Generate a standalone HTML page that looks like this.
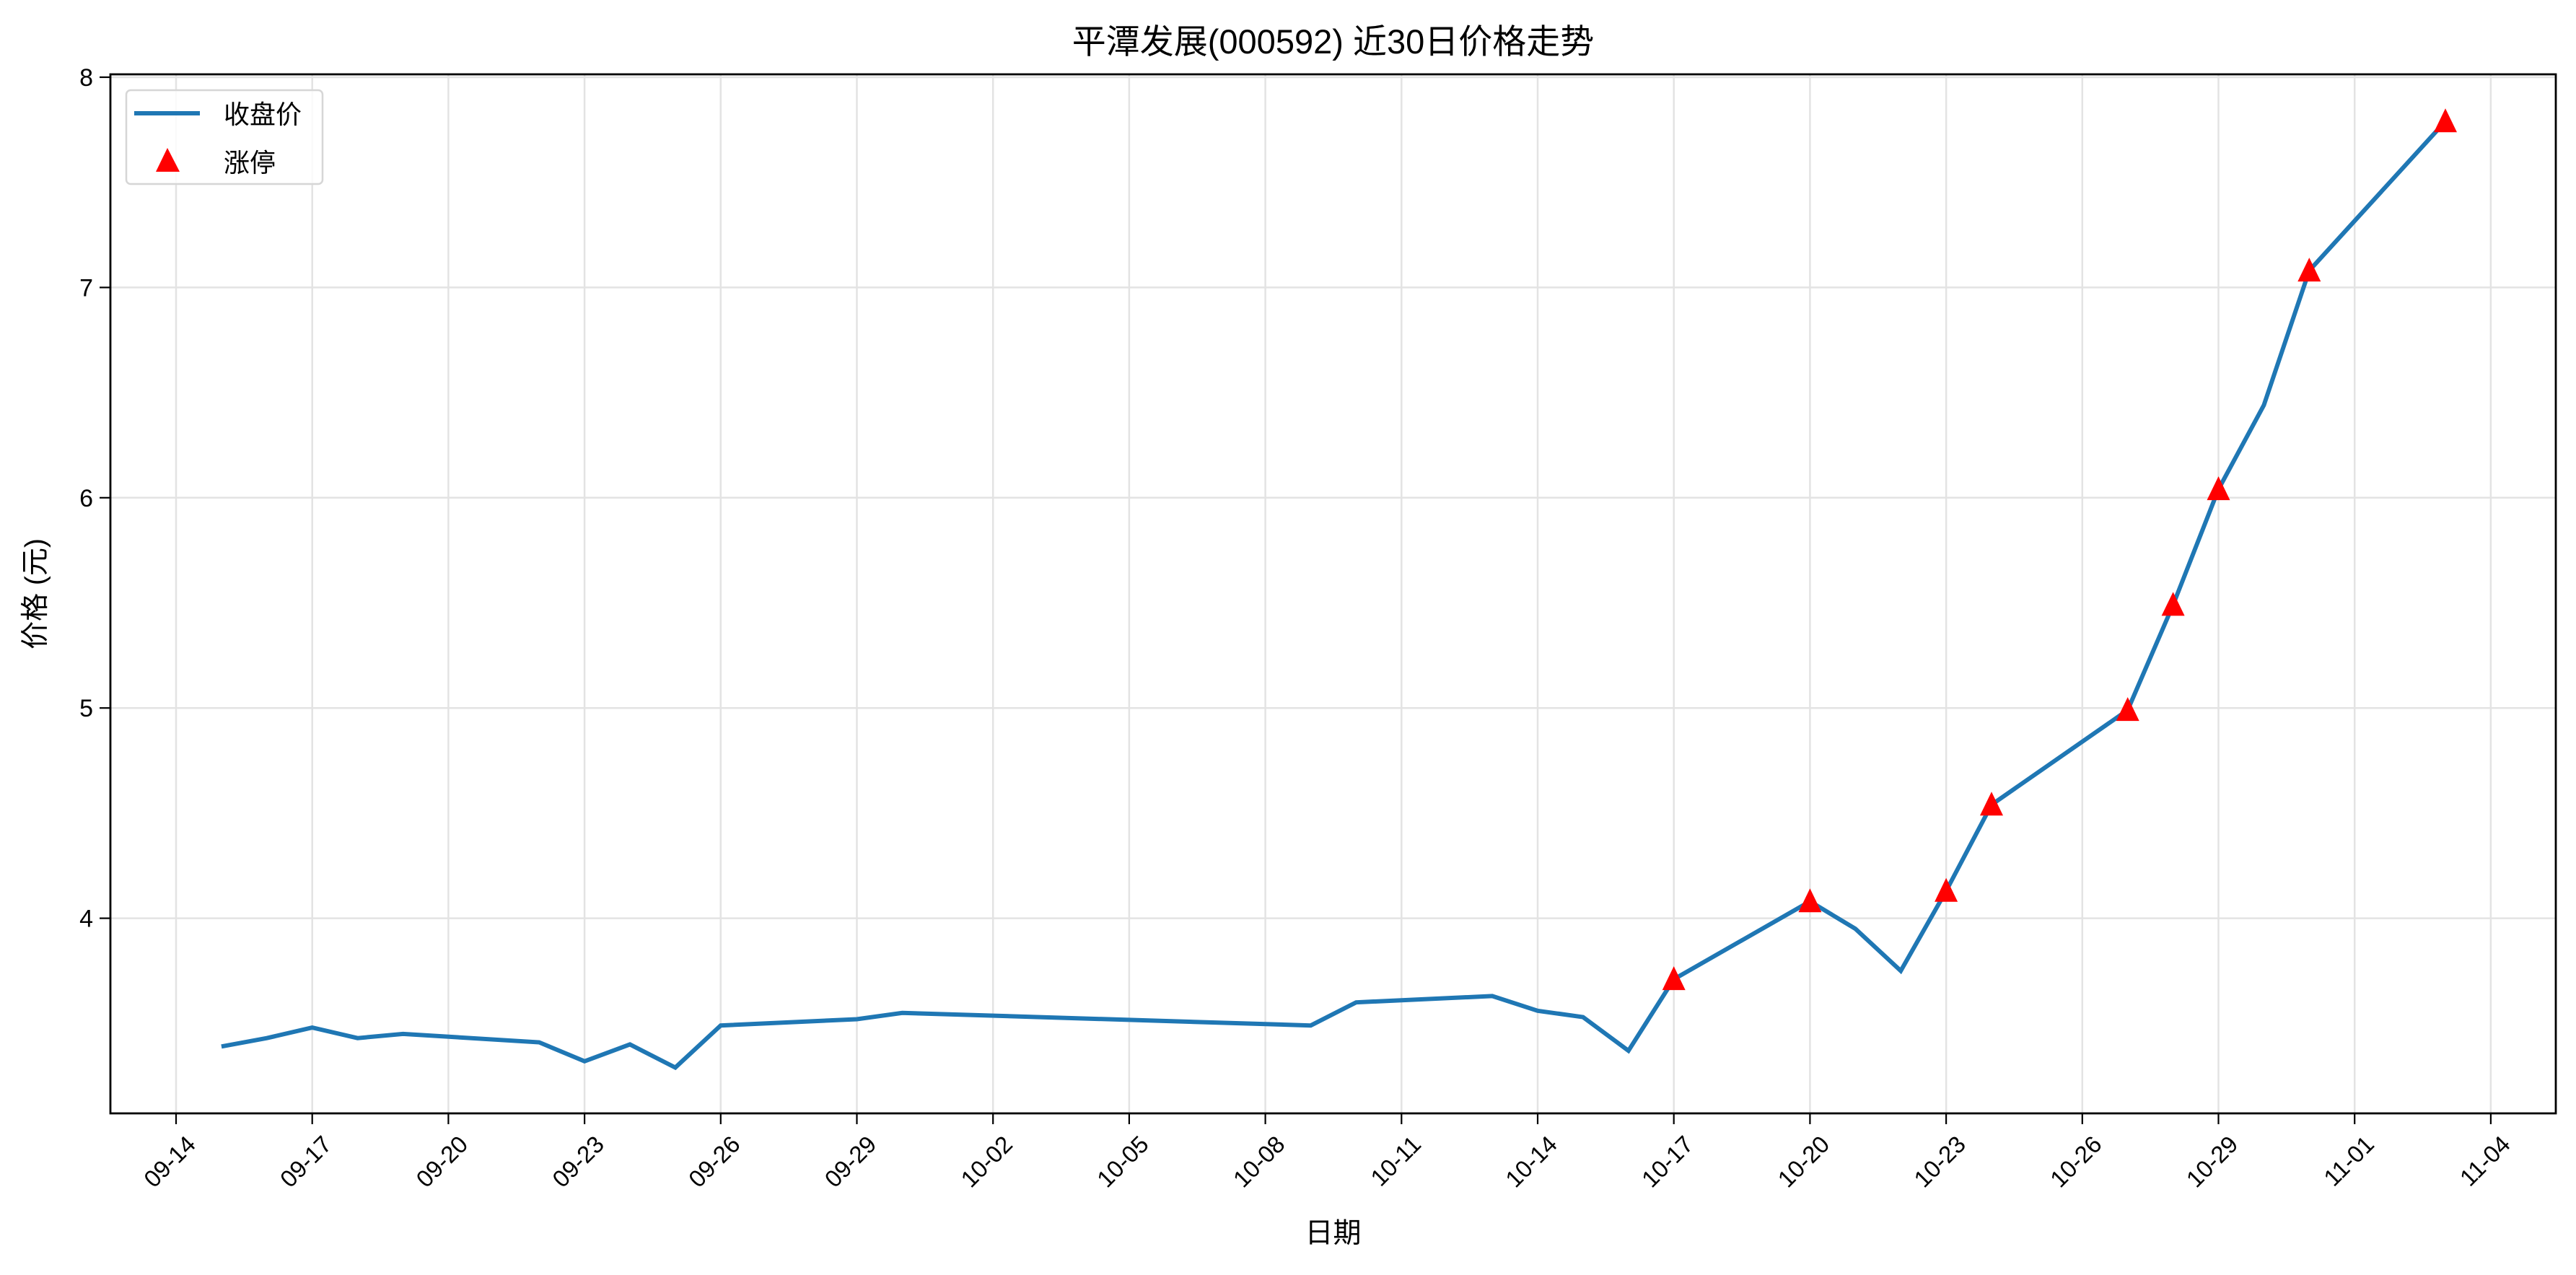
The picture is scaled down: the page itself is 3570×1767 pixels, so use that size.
<!DOCTYPE html>
<html><head><meta charset="utf-8"><style>
html,body{margin:0;padding:0;background:#fff;}
svg{display:block;font-family:"Liberation Sans","Noto Sans CJK SC",sans-serif;}
</style></head><body>
<svg id="c" width="3570" height="1767" xmlns="http://www.w3.org/2000/svg"></svg>
<script>
const L=153,R=3542,T=103,B=1543;
const X=d=>244+d*62.9, Y=v=>107+(8-v)*291.4;
const data=[[1,3.39],[2,3.43],[3,3.48],[4,3.43],[5,3.45],[8,3.41],[9,3.32],[10,3.40],[11,3.29],[12,3.49],[15,3.52],[16,3.55],[25,3.49],[26,3.60],[29,3.63],[30,3.56],[31,3.53],[32,3.37],[33,3.71],[36,4.08],[37,3.95],[38,3.75],[39,4.13],[40,4.54],[43,4.99],[44,5.49],[45,6.04],[46,6.44],[47,7.08],[50,7.79]];
const lim=[33,36,39,40,43,44,45,47,50];
const labels=["09-14","09-17","09-20","09-23","09-26","09-29","10-02","10-05","10-08","10-11","10-14","10-17","10-20","10-23","10-26","10-29","11-01","11-04"];
let s='';
labels.forEach((l,i)=>{const x=X(i*3);s+=`<line x1="${x}" y1="${T}" x2="${x}" y2="${B}" stroke="#e3e3e3" stroke-width="2.5"/>`;});
[4,5,6,7,8].forEach(v=>{const y=Y(v);s+=`<line x1="${L}" y1="${y}" x2="${R}" y2="${y}" stroke="#e3e3e3" stroke-width="2.5"/>`;});
s+=`<polyline fill="none" stroke="#1f77b4" stroke-width="6" stroke-linejoin="miter" points="${data.map(p=>X(p[0])+','+Y(p[1])).join(' ')}"/>`;
data.filter(p=>lim.includes(p[0])).forEach(p=>{const x=X(p[0]),y=Y(p[1]);s+=`<polygon points="${x},${y-18} ${x-16},${y+15} ${x+16},${y+15}" fill="#ff0000"/>`;});
s+=`<rect x="${L}" y="${T}" width="${R-L}" height="${B-T}" fill="none" stroke="#000" stroke-width="2.8"/>`;
labels.forEach((l,i)=>{const x=X(i*3);s+=`<line x1="${x}" y1="${B}" x2="${x}" y2="${B+15}" stroke="#000" stroke-width="2.2"/>`;
s+=`<text x="${x+12}" y="${B+28}" font-size="33" text-anchor="end" transform="rotate(-45 ${x+12} ${B+28})" dominant-baseline="hanging">${l}</text>`;});
[4,5,6,7,8].forEach(v=>{const y=Y(v);s+=`<line x1="${L-15}" y1="${y}" x2="${L}" y2="${y}" stroke="#000" stroke-width="2.2"/><text x="${L-24}" y="${y+12}" font-size="34" text-anchor="end">${v}</text>`;});
s+=`<text x="${(L+R)/2}" y="74" font-size="47" text-anchor="middle">平潭发展(000592) 近30日价格走势</text>`;
s+=`<text x="${(L+R)/2}" y="1722" font-size="39" text-anchor="middle">日期</text>`;
s+=`<text x="62" y="${(T+B)/2}" font-size="39" text-anchor="middle" transform="rotate(-90 62 ${(T+B)/2})">价格 (元)</text>`;
s+=`<rect x="175" y="125" width="272" height="130" rx="6" fill="#fff" fill-opacity="0.8" stroke="#d6d6d6" stroke-width="2.5"/>`;
s+=`<line x1="186" y1="157" x2="277" y2="157" stroke="#1f77b4" stroke-width="6"/>`;
s+=`<text x="310" y="171" font-size="36">收盘价</text>`;
s+=`<polygon points="232,205 216,238 249,238" fill="#ff0000"/>`;
s+=`<text x="310" y="238" font-size="36">涨停</text>`;
document.getElementById('c').innerHTML=s;
</script>
</body></html>
